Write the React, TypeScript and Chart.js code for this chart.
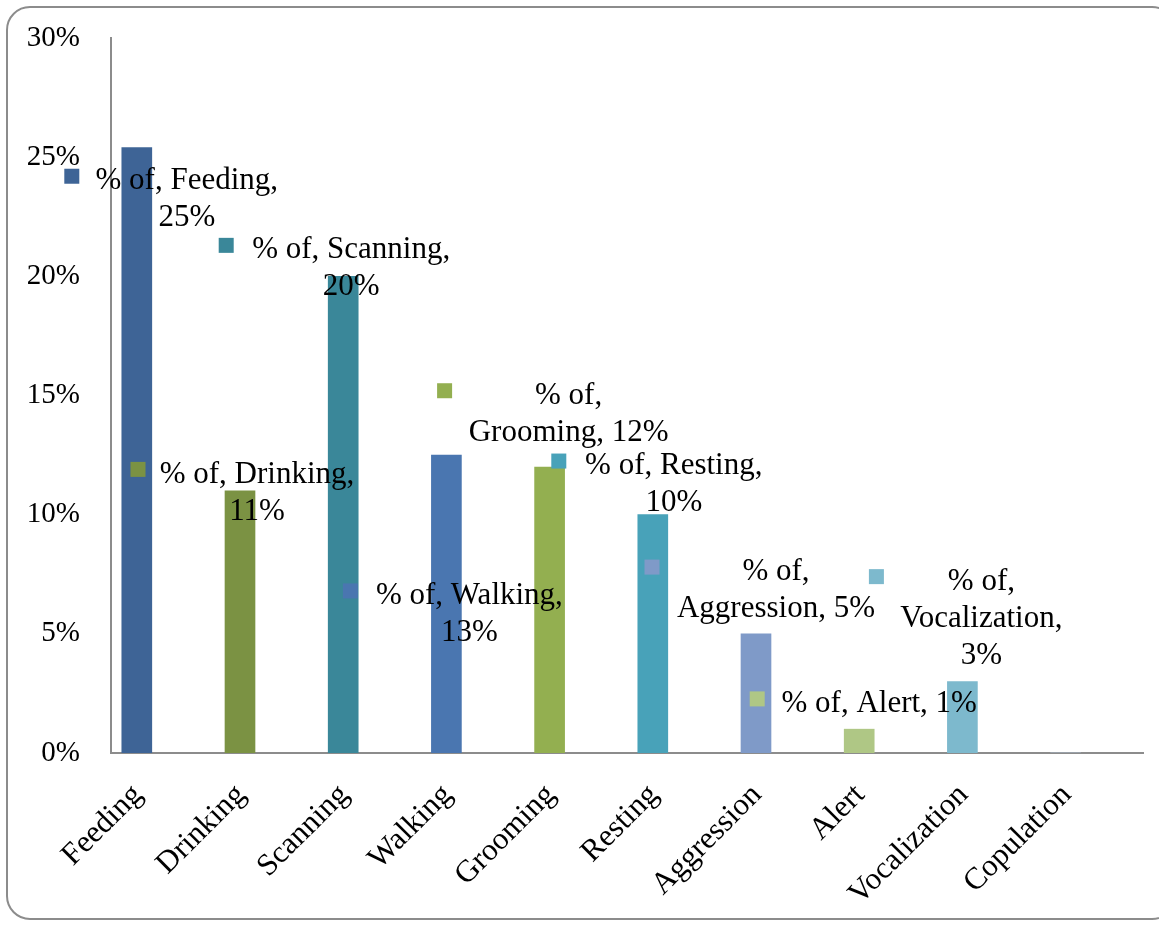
import React, { useEffect, useRef } from "react";
import { Chart, registerables } from "chart.js";

Chart.register(...registerables);

// Behaviour categories and share of observed time (%)
const behaviours = [
  "Feeding",
  "Drinking",
  "Scanning",
  "Walking",
  "Grooming",
  "Resting",
  "Aggression",
  "Alert",
  "Vocalization",
  "Copulation",
];
const shareOfTime = [25.4, 11.0, 20.0, 12.5, 12.0, 10.0, 5.0, 1.0, 3.0, 0];
const seriesName = "% of";

// Column colours, one per behaviour
const barColors = [
  "#3E6496",
  "#7B9243",
  "#3A8799",
  "#4A76B0",
  "#93AF50",
  "#48A2B9",
  "#7F9AC8",
  "#AFC785",
  "#7DB9CD",
  "#B4C8E0",
];

// Y-axis ticks (%)
const yTicks = [0, 5, 10, 15, 20, 25, 30];

// Data-label layout: key square offset from the column centre (px), key height
// on the value axis (%), text centre offset (px), and how the label words wrap.
const labelKeyDx = [-65, -102, -117, -96, -105, -94, -104, -102, -86, 0];
const labelKeyAt = [24.2, 11.9, 21.3, 6.8, 15.2, 12.25, 7.8, 2.27, 7.4, 0];
const labelTextDx = [50, 17, 8, 23, 19, 21, 20, 20, 19, 0];
const labelWrap = [
  [2, 1],
  [2, 1],
  [2, 1],
  [2, 1],
  [1, 2],
  [2, 1],
  [1, 2],
  [3],
  [1, 1, 1],
  [],
];

const FONT = "'Liberation Serif', 'Times New Roman', serif";

const dataLabelPlugin = {
  id: "keyedDataLabels",
  afterDatasetsDraw(chart: any) {
    const { ctx } = chart;
    const xs = chart.scales.x;
    const ys = chart.scales.y;
    ctx.save();
    ctx.font = `31px ${FONT}`;
    ctx.textAlign = "center";
    ctx.textBaseline = "middle";
    const lineH = 37;
    const key = 15;
    shareOfTime.forEach((v, i) => {
      const wrap = labelWrap[i];
      if (!wrap.length) return;
      const parts = [`${seriesName},`, `${behaviours[i]},`, `${Math.round(v)}%`];
      const lines: string[] = [];
      let p = 0;
      wrap.forEach((n) => {
        lines.push(parts.slice(p, p + n).join(" "));
        p += n;
      });
      const cx = xs.getPixelForValue(i);
      const ky = ys.getPixelForValue(labelKeyAt[i]);
      ctx.fillStyle = barColors[i];
      ctx.fillRect(cx + labelKeyDx[i] - key / 2, ky - key / 2, key, key);
      ctx.fillStyle = "#000";
      lines.forEach((line, li) => {
        ctx.fillText(line, cx + labelTextDx[i], ky + 5 + li * lineH);
      });
    });
    ctx.restore();
  },
};

export default function App() {
  const canvasRef = useRef<HTMLCanvasElement | null>(null);

  useEffect(() => {
    const canvas = canvasRef.current;
    if (!canvas) return;
    const chart = new Chart(canvas, {
      type: "bar",
      data: {
        datasets: [
          {
            label: seriesName,
            data: shareOfTime.map((v, i) => ({ x: i, y: v })),
            backgroundColor: barColors,
            barThickness: 30,
          },
        ],
      },
      options: {
        responsive: false,
        animation: false,
        devicePixelRatio: 1,
        layout: { padding: { top: 38, right: 16, left: 0, bottom: 0 } },
        plugins: {
          legend: { display: false },
          tooltip: { enabled: false },
        },
        scales: {
          x: {
            type: "linear",
            min: -0.25,
            max: 9.75,
            offset: false,
            afterBuildTicks: (scale: any) => {
              scale.ticks = behaviours.map((_, i) => ({ value: i }));
            },
            afterFit: (scale: any) => {
              scale.height = 173;
              scale.paddingLeft = 0;
              scale.paddingRight = 0;
            },
            grid: { display: false, drawTicks: false },
            border: { display: true, color: "#8C8C8C", width: 2 },
            ticks: {
              autoSkip: false,
              maxRotation: 45,
              minRotation: 45,
              padding: 24,
              labelOffset: 1,
              color: "#000",
              font: { family: FONT, size: 31 },
              callback: (v: any) => behaviours[v as number] ?? "",
            },
          },
          y: {
            min: 0,
            max: 30,
            afterBuildTicks: (scale: any) => {
              scale.ticks = yTicks.map((v) => ({ value: v }));
            },
            afterFit: (scale: any) => {
              scale.width = 111;
              scale.paddingTop = 0;
              scale.paddingBottom = 0;
            },
            grid: { display: false, drawTicks: false },
            border: { display: true, color: "#8C8C8C", width: 2 },
            ticks: {
              padding: 31,
              color: "#000",
              font: { family: FONT, size: 29 },
              callback: (v: any) => `${v}%`,
            },
          },
        },
      },
      plugins: [dataLabelPlugin],
    });
    return () => chart.destroy();
  }, []);

  return (
    <div
      style={{
        position: "fixed",
        left: 0,
        top: 0,
        width: 1159,
        height: 926,
        background: "#fff",
        overflow: "hidden",
      }}
    >
      <div
        style={{
          position: "absolute",
          left: 6,
          top: 6,
          width: 1170,
          height: 914,
          border: "2px solid #8C8C8C",
          borderRadius: 24,
          boxSizing: "border-box",
        }}
      />
      <canvas
        ref={canvasRef}
        width={1159}
        height={926}
        style={{ position: "absolute", left: 0, top: 0 }}
      />
    </div>
  );
}
